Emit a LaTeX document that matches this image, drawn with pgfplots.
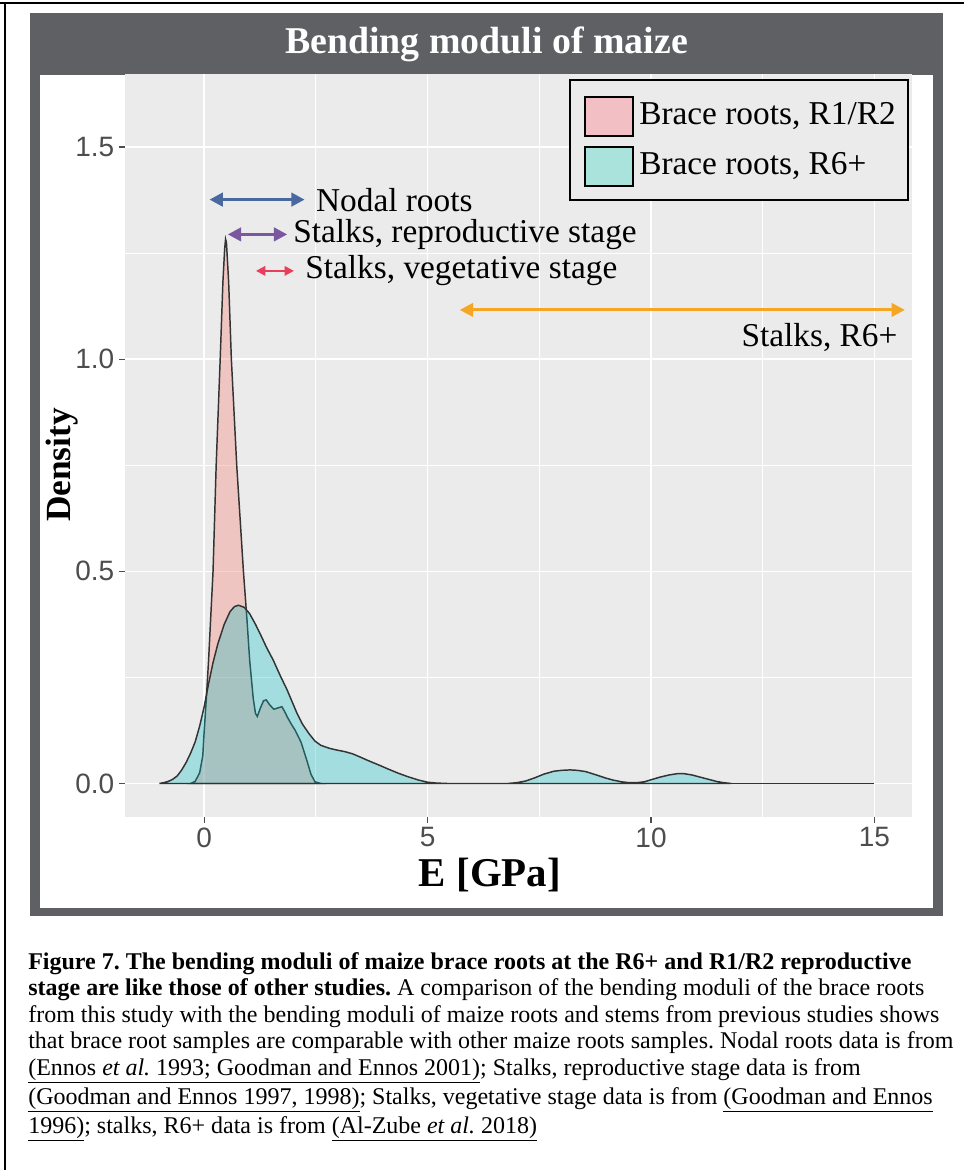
\documentclass[border=0pt]{standalone}
\usepackage{pgfplots}
\pgfplotsset{compat=1.18}
\usepackage{fontspec}
\setmainfont{Liberation Serif}
\setsansfont{Liberation Sans}
\usetikzlibrary{arrows.meta}
\definecolor{framegrey}{HTML}{5F6064}
\definecolor{panel}{HTML}{EBEBEB}
\definecolor{tickgrey}{HTML}{4D4D4D}
\definecolor{gpink}{HTML}{F8766D}
\definecolor{gteal}{HTML}{00BFC4}
\definecolor{keypink}{HTML}{F2C0C4}
\definecolor{keyteal}{HTML}{AAE2DC}
\definecolor{arrblue}{HTML}{4A68A0}
\definecolor{arrpurple}{HTML}{7A58A0}
\definecolor{arrred}{HTML}{E83E5A}
\definecolor{arrorange}{HTML}{F5A623}
\definecolor{outline}{HTML}{333333}
\frenchspacing
\begin{document}
\begin{tikzpicture}[x=0.75pt,y=-0.75pt]
\path[use as bounding box, fill=white] (0,0) rectangle (964,1170);
\draw[line width=0.9pt] (0,3) -- (964,3);
\draw[line width=0.9pt] (5,3) -- (5,1170);
\fill[framegrey] (30,13) rectangle (943,916);
\fill[white] (40,75) rectangle (933,908);
\node[text=white, font=\bfseries\fontsize{28.4pt}{30pt}\selectfont] at (486.5,44) {Bending moduli of maize};
\begin{axis}[
  at={(93.75pt,-612.75pt)}, anchor=south west, scale only axis,
  width=590.25pt, height=557.25pt,
  xmin=-1.77, xmax=15.84, ymin=-0.079, ymax=1.672,
  axis background/.style={fill=panel},
  axis line style={draw=none},
  xtick={0,5,10,15}, ytick={0,0.5,1,1.5},
  minor xtick={2.5,7.5,12.5}, minor ytick={0.25,0.75,1.25},
  grid=both,
  major grid style={white, line width=1.1pt},
  minor grid style={white, line width=0.55pt},
  tick pos=left, tick align=outside,
  major tick length=4.5pt, minor tick length=0pt,
  major tick style={tickgrey, line width=0.9pt},
  /pgf/number format/assume math mode=true,
  yticklabel style={/pgf/number format/fixed, /pgf/number format/fixed zerofill, /pgf/number format/precision=1},
  ticklabel style={font=\sffamily\fontsize{21pt}{21pt}\selectfont, text=tickgrey},
]
% Brace roots, R1/R2
\addplot[fill=gpink, fill opacity=0.32, draw=outline, line width=1.1pt] table {
x y
-0.30 0
-0.20 0.005
-0.10 0.025
-0.03 0.065
0.00 0.12
0.05 0.20
0.10 0.29
0.145 0.385
0.20 0.50
0.27 0.75
0.36 1.00
0.42 1.18
0.46 1.26
0.48 1.283
0.50 1.275
0.55 1.18
0.61 1.00
0.73 0.75
0.88 0.50
0.96 0.385
1.02 0.29
1.10 0.20
1.15 0.165
1.19 0.158
1.26 0.178
1.33 0.195
1.39 0.197
1.47 0.185
1.56 0.175
1.65 0.178
1.74 0.181
1.80 0.170
1.86 0.157
1.95 0.140
2.04 0.125
2.17 0.097
2.30 0.054
2.39 0.022
2.48 0.004
2.61 0
} \closedcycle;
% Brace roots, R6+
\addplot[fill=gteal, fill opacity=0.3, draw=outline, line width=1.1pt] table {
x y
-1.00 0
-0.90 0.002
-0.80 0.005
-0.70 0.010
-0.60 0.018
-0.50 0.032
-0.40 0.050
-0.30 0.072
-0.20 0.098
-0.10 0.135
0.00 0.18
0.10 0.235
0.20 0.285
0.31 0.33
0.45 0.375
0.58 0.405
0.68 0.417
0.77 0.420
0.90 0.415
1.02 0.400
1.15 0.375
1.28 0.347
1.40 0.320
1.55 0.290
1.70 0.255
1.86 0.220
2.08 0.165
2.20 0.140
2.35 0.117
2.48 0.100
2.61 0.090
2.80 0.083
2.96 0.079
3.15 0.075
3.32 0.070
3.50 0.062
3.67 0.054
3.90 0.044
4.12 0.034
4.35 0.024
4.56 0.016
4.80 0.008
5.00 0.003
5.20 0.001
5.44 0
6.80 0
7.00 0.002
7.20 0.006
7.39 0.013
7.60 0.022
7.83 0.029
8.00 0.031
8.19 0.032
8.35 0.031
8.54 0.028
8.75 0.021
8.98 0.013
9.15 0.008
9.34 0.004
9.50 0.002
9.69 0.002
9.85 0.004
10.04 0.010
10.20 0.015
10.40 0.020
10.58 0.023
10.75 0.023
10.92 0.020
11.10 0.015
11.28 0.010
11.46 0.005
11.62 0.002
11.79 0
} \closedcycle;
\addplot[draw=outline, line width=1.1pt] coordinates {(11.79,0) (15,0)};
% annotations
\draw[arrblue, line width=2.4pt, {Triangle[length=10pt,width=10pt]}-{Triangle[length=10pt,width=10pt]}] (axis cs:0.12,1.376) -- (axis cs:2.25,1.376);
\node[anchor=west, font=\fontsize{25pt}{28pt}\selectfont, inner sep=0pt] at (axis cs:2.5,1.376) {Nodal roots};
\draw[arrpurple, line width=2.4pt, {Triangle[length=10pt,width=10pt]}-{Triangle[length=10pt,width=10pt]}] (axis cs:0.53,1.294) -- (axis cs:1.86,1.294);
\node[anchor=west, font=\fontsize{25pt}{28pt}\selectfont, inner sep=0pt] at (axis cs:1.99,1.294) {Stalks, reproductive stage};
\draw[arrred, line width=1.6pt, {Triangle[length=7pt,width=7pt]}-{Triangle[length=7pt,width=7pt]}] (axis cs:1.16,1.208) -- (axis cs:2.01,1.208);
\node[anchor=west, font=\fontsize{25pt}{28pt}\selectfont, inner sep=0pt] at (axis cs:2.26,1.208) {Stalks, vegetative stage};
\draw[arrorange, line width=2.2pt, {Triangle[length=10pt,width=10pt]}-{Triangle[length=10pt,width=10pt]}] (axis cs:5.72,1.116) -- (axis cs:15.68,1.116);
\node[anchor=east, font=\fontsize{25pt}{28pt}\selectfont, inner sep=0pt] at (axis cs:15.52,1.051) {Stalks, R6+};
\end{axis}
% axis titles
\node[rotate=90, font=\bfseries\fontsize{26.5pt}{28pt}\selectfont] at (62,465) {Density};
\node[font=\bfseries\fontsize{30.7pt}{32pt}\selectfont] at (490,875) {E [GPa]};
% legend
\draw[line width=2.2pt, fill=panel] (570,80) rectangle (908,200);
\draw[line width=1.8pt, fill=keypink] (585,97) rectangle (633,136);
\draw[line width=1.8pt, fill=keyteal] (585,147) rectangle (633,186);
\node[anchor=west, inner sep=0pt, font=\fontsize{25pt}{28pt}\selectfont] at (639,116) {Brace roots, R1/R2};
\node[anchor=west, inner sep=0pt, font=\fontsize{25pt}{28pt}\selectfont] at (639,166) {Brace roots, R6+};
% caption
\begin{scope}[every node/.style={anchor=base west, inner sep=0pt, font=\fontsize{18pt}{20pt}\selectfont}]
\node at (28,969) {\textbf{Figure 7. The bending moduli of maize brace roots at the R6+ and R1/R2 reproductive}};
\node at (28,995) {\textbf{stage are like those of other studies.} A comparison of the bending moduli of the brace roots};
\node at (28,1022) {from this study with the bending moduli of maize roots and stems from previous studies shows};
\node at (28,1048) {that brace root samples are comparable with other maize roots samples. Nodal roots data is from};
\node at (28,1075) {\underline{(Ennos \textit{et al.} 1993; Goodman and Ennos 2001)}; Stalks, reproductive stage data is from};
\node at (28,1104) {\underline{(Goodman and Ennos 1997, 1998)}; Stalks, vegetative stage data is from \underline{(Goodman and Ennos}};
\node at (28,1133) {\underline{1996)}; stalks, R6+ data is from \underline{(Al-Zube \textit{et al.} 2018)}};
\end{scope}
\end{tikzpicture}
\end{document}
